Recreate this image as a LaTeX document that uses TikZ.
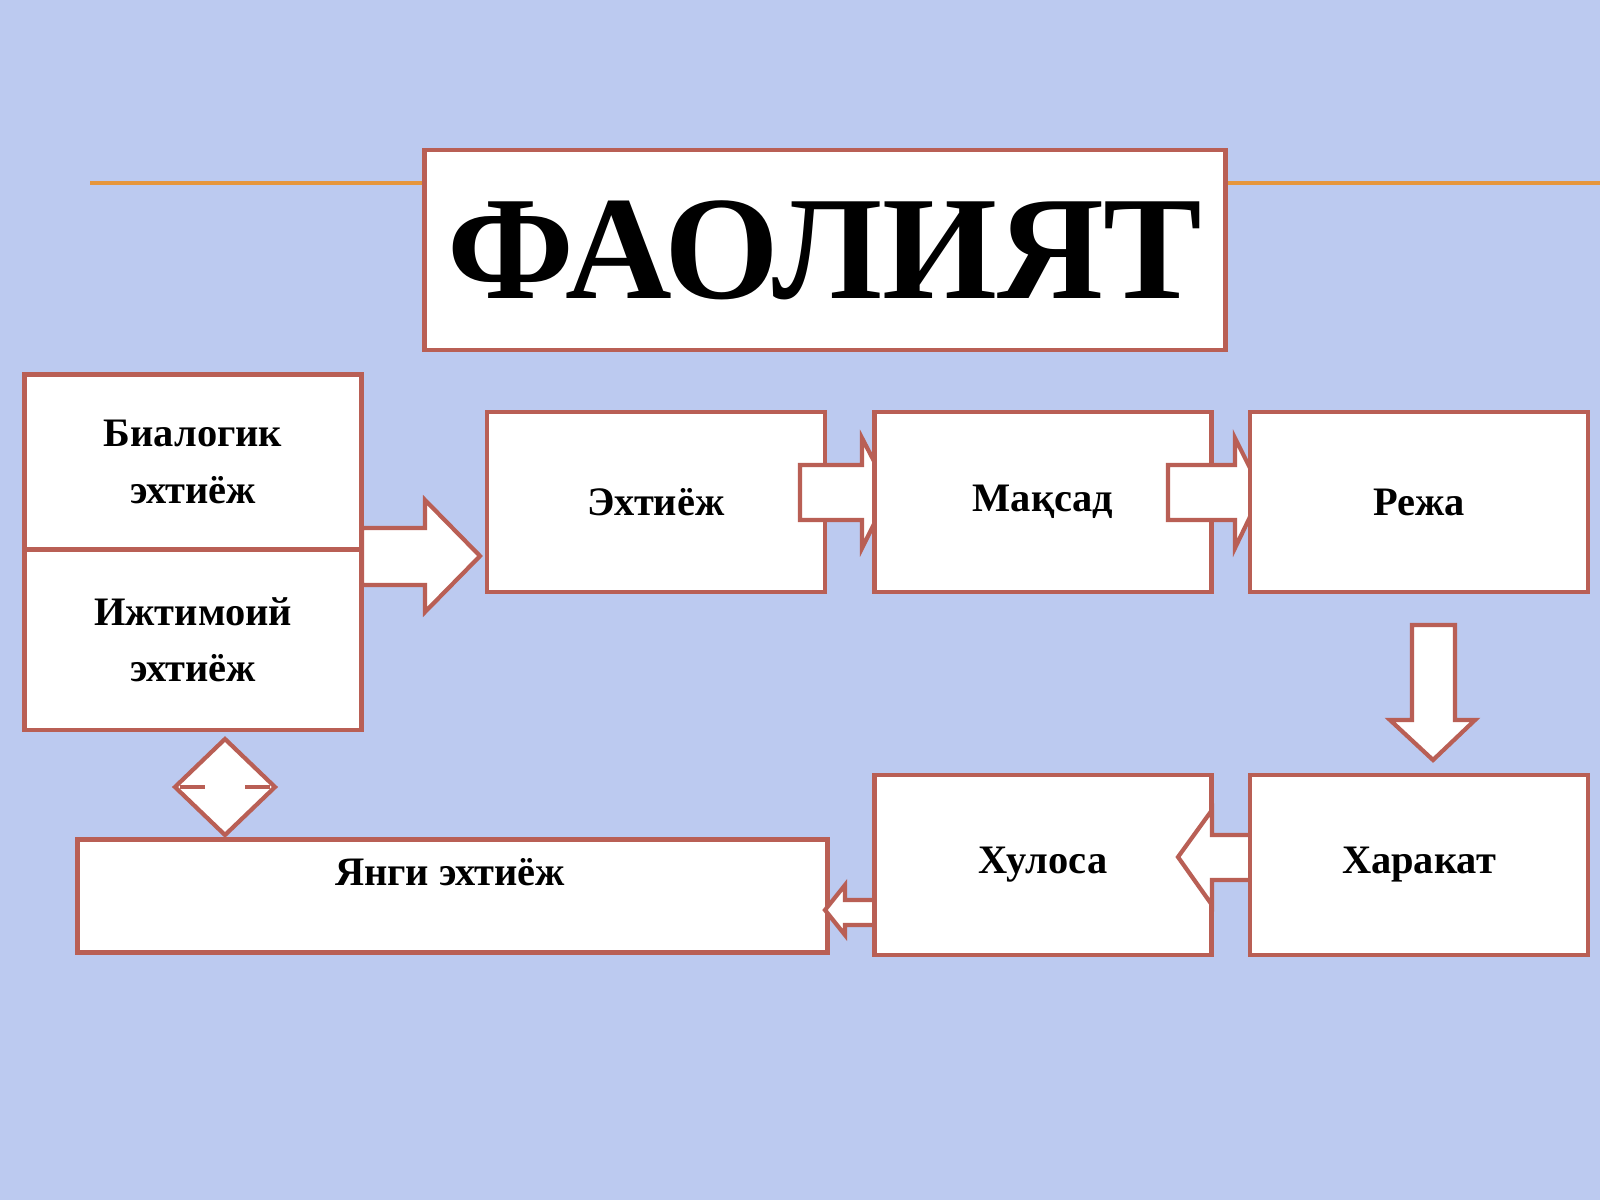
\documentclass[tikz,border=0pt]{standalone}
\usepackage{fontspec}
\setmainfont{Liberation Serif}
\usetikzlibrary{positioning}
\definecolor{bg}{RGB}{188,202,240}
\definecolor{edge}{RGB}{185,95,85}
\definecolor{rule}{RGB}{230,150,60}
\begin{document}
\begin{tikzpicture}[x=0.01cm,y=-0.01cm,
            box/.style={draw=edge,line width=1.3pt,fill=white,font=\bfseries\fontsize{11.5}{16}\selectfont,align=center},
            blockarrow/.style={draw=edge,line width=1.2pt,fill=white,line join=miter}
          ]
          \fill[bg] (0,0) rectangle (1600,1200);
          \useasboundingbox (0,0) rectangle (1600,1200);
          \draw[rule,line width=1pt] (90,183) -- (1600,183);

          %title
          \node[box,minimum width=8cm,minimum height=2cm,font=\bfseries\fontsize{42}{44}\selectfont] (title) at (825,250) {ФАОЛИЯТ};

          %need boxes
          \node[box,minimum width=3.37cm,minimum height=1.75cm] (bio) at (193,462) {Биалогик\\эхтиёж};
          \node[box,minimum width=3.37cm,minimum height=1.8cm] (soc) at (193,640) {Ижтимоий\\эхтиёж};
          \draw[blockarrow] (362,528) -- (425,528) -- (425,500) -- (480,556) -- (425,612) -- (425,585) -- (362,585) -- cycle;

          %chain
          \node[box,minimum width=3.38cm,minimum height=1.8cm] (need) at (656,502) {Эхтиёж};
          \draw[blockarrow] (800,465) -- (862,465) -- (862,438) -- (890,492) -- (862,548) -- (862,520) -- (800,520) -- cycle;
          \node[box,minimum width=3.37cm,minimum height=1.8cm] (goal) at (1043,502) {Мақсад};
          \draw[blockarrow] (1168,465) -- (1235,465) -- (1235,438) -- (1262,492) -- (1235,548) -- (1235,520) -- (1168,520) -- cycle;
          \node[box,minimum width=3.38cm,minimum height=1.8cm] (plan) at (1419,502) {Режа};
          \draw[blockarrow] (1412,625) -- (1455,625) -- (1455,720) -- (1475,720) -- (1433,760) -- (1390,720) -- (1412,720) -- cycle;

          %back row
          \node[box,minimum width=7.5cm,minimum height=1.13cm,anchor=north west] (new) at (75,837) {};
          \node[font=\bfseries\fontsize{11.5}{16}\selectfont] (newlab) at (450,872) {Янги эхтиёж};
          \draw[blockarrow] (880,900) -- (845,900) -- (845,885) -- (825,910) -- (845,935) -- (845,925) -- (880,925) -- cycle;
          \node[box,minimum width=3.37cm,minimum height=1.8cm] (res) at (1043,865) {Хулоса};
          \draw[blockarrow] (1262,835) -- (1212,835) -- (1212,810) -- (1178,857) -- (1212,905) -- (1212,880) -- (1262,880) -- cycle;
          \node[box,minimum width=3.38cm,minimum height=1.8cm] (act) at (1419,865) {Харакат};

          %diamond
          \draw[blockarrow] (225,739) -- (275,787) -- (225,835) -- (175,787) -- cycle;
          \draw[edge,line width=1.2pt] (180,787) -- (205,787) (245,787) -- (270,787);
      \end{tikzpicture}
\end{document}
